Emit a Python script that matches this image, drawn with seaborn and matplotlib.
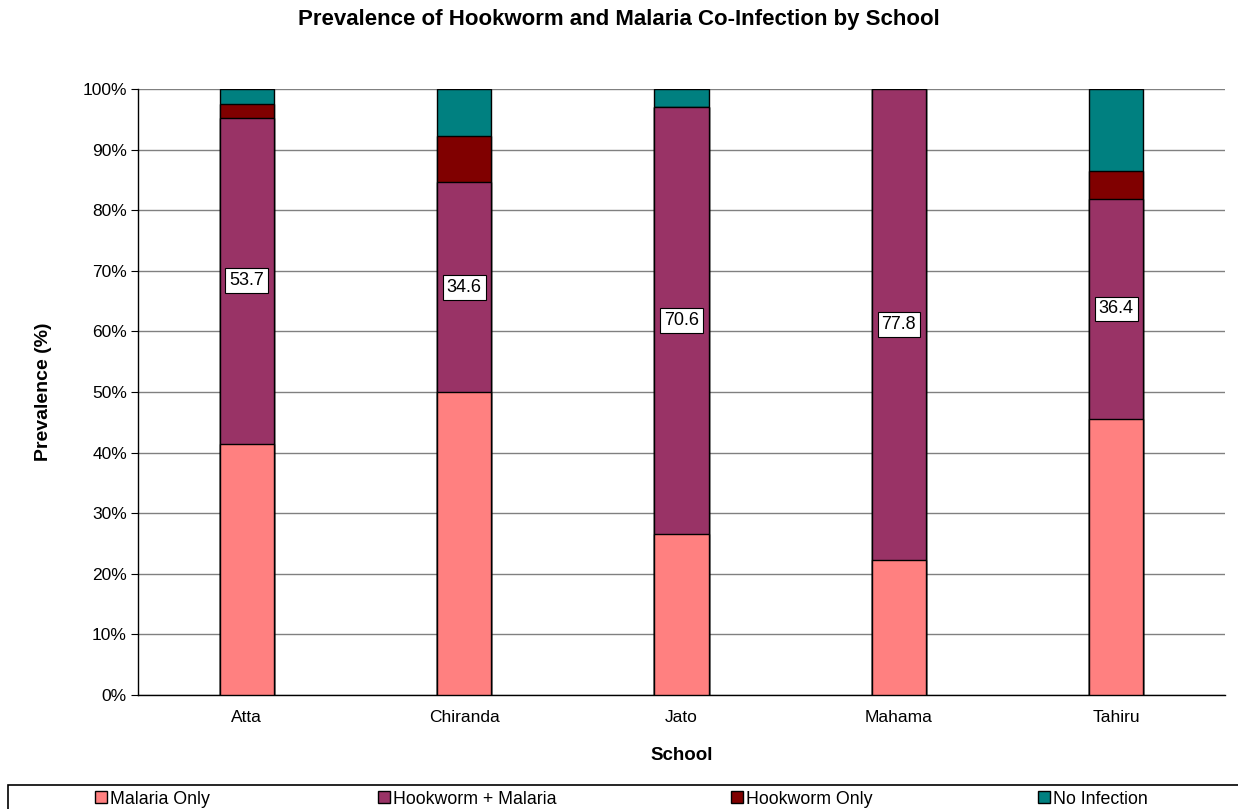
import matplotlib
matplotlib.use("Agg")
import matplotlib.pyplot as plt
import numpy as np
import pandas as pd
import seaborn as sns
from matplotlib.patches import Patch, Rectangle
from matplotlib.ticker import FixedLocator, PercentFormatter

schools = ["Atta", "Chiranda", "Jato", "Mahama", "Tahiru"]
malaria_only = [41.5, 50.0, 26.5, 22.2, 45.5]
hookworm_malaria = [53.7, 34.6, 70.6, 77.8, 36.4]
hookworm_only = [2.4, 7.7, 0.0, 0.0, 4.5]
no_infection = [2.4, 7.7, 2.9, 0.0, 13.6]

series = ["Malaria Only", "Hookworm + Malaria", "Hookworm Only", "No Infection"]
colores = ["#FF8080", "#993366", "#800000", "#008080"]

df = pd.DataFrame({
    "School": schools,
    "Malaria Only": malaria_only,
    "Hookworm + Malaria": hookworm_malaria,
    "Hookworm Only": hookworm_only,
    "No Infection": no_infection,
})

# Acumulados para apilar: se dibuja de la serie superior a la inferior
acum = df[series].cumsum(axis=1)

sns.set_style("white")
plt.rcParams["font.family"] = ["Liberation Sans", "DejaVu Sans"]
for clave in ["text.color", "axes.labelcolor", "xtick.color", "ytick.color"]:
    plt.rcParams[clave] = "black"

W, H = 1238, 809
fig = plt.figure(figsize=(W / 100, H / 100), dpi=100)
ax = fig.add_axes([138 / W, 1 - 695 / H, (1225 - 138) / W, (695 - 89) / H])

for nombre, color in reversed(list(zip(series, colores))):
    sns.barplot(x=df["School"], y=acum[nombre], color=color, width=0.25,
                edgecolor="black", linewidth=1, saturation=1, ax=ax, zorder=3)

# Etiquetas de Hookworm + Malaria
for i, (base, valor) in enumerate(zip(malaria_only, hookworm_malaria)):
    ax.text(i, base + valor / 2, f"{valor:.1f}", ha="center", va="center",
            fontsize=13, zorder=5,
            bbox=dict(boxstyle="square,pad=0.22", fc="white", ec="black", lw=0.8))

ax.set_ylim(0, 100)
ax.set_xlim(-0.5, len(schools) - 0.5)
ax.yaxis.set_major_locator(FixedLocator(np.arange(0, 101, 10)))
ax.yaxis.set_major_formatter(PercentFormatter(decimals=0))
ax.yaxis.grid(True, color="#808080", linewidth=1, zorder=0)
ax.set_axisbelow(True)

ax.xaxis.set_minor_locator(FixedLocator(np.arange(-0.5, len(schools), 1)))
ax.tick_params(axis="x", which="major", length=0, labelsize=12.5, pad=11)
ax.tick_params(axis="x", which="minor", length=5, color="black", direction="out")
ax.tick_params(axis="y", length=5, color="black", direction="out", labelsize=12.5,
               left=True, pad=3)

for lado in ["top", "right"]:
    ax.spines[lado].set_visible(False)
for lado in ["left", "bottom"]:
    ax.spines[lado].set_color("black")
    ax.spines[lado].set_linewidth(1)

ax.set_xlabel("School", fontsize=13.5, fontweight="bold", labelpad=16)
ax.set_ylabel("Prevalence (%)", fontsize=14, fontweight="bold", labelpad=22)

fig.suptitle("Prevalence of Hookworm and Malaria Co-Infection by School",
             fontsize=16, fontweight="bold", y=1 - 19 / H, va="center")

# Leyenda: un recuadro abierto por abajo y a la derecha, con cuatro entradas
fig.patches.append(Rectangle((8 / W, -0.02), 1.1, 0.02 + (H - 785) / H,
                             transform=fig.transFigure, fill=False,
                             edgecolor="black", linewidth=1.2))
pos_x = [95, 378, 731, 1038]
for nombre, color, x in zip(series, colores, pos_x):
    fig.legend([Patch(facecolor=color, edgecolor="black", linewidth=1)], [nombre],
               loc="center left", bbox_to_anchor=(x / W, 1 - 799 / H),
               fontsize=12.8, frameon=False, handlelength=0.68, handleheight=0.68,
               handletextpad=0.15, borderpad=0, borderaxespad=0)

fig.savefig("out.png", dpi=100)
